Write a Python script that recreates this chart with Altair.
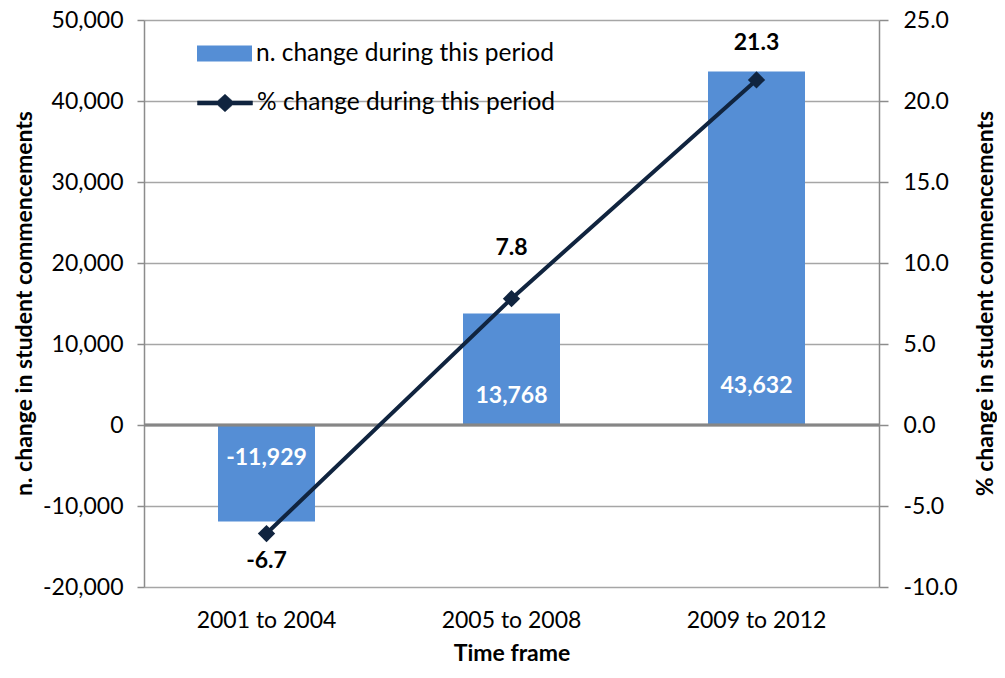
import altair as alt
import pandas as pd

periods = ["2001 to 2004", "2005 to 2008", "2009 to 2012"]
n_change = [-11929, 13768, 43632]
pct_change = [-6.7, 7.8, 21.3]
bar_series = "n. change during this period"
line_series = "% change during this period"

left_ticks = [-20000, -10000, 0, 10000, 20000, 30000, 40000, 50000]
right_ticks = [-10, -5, 0, 5, 10, 15, 20, 25]

df = pd.DataFrame({
    "period": periods,
    "n": n_change,
    "pct": pct_change,
    "n_label": [f"{v:,}" for v in n_change],
    "pct_label": [f"{v:.1f}" for v in pct_change],
    "bar_series": [bar_series] * 3,
    "line_series": [line_series] * 3,
})

FONT = "Lato"
BAR = "#558ED5"
NAVY = "#10243F"
GRID = "#A6A6A6"
FS = 23
LFS = 24.5
MINUS = "\u2212"

# label offsets (pixels) per period, styling only
bar_dy = [33, -29, -39]
pct_dy = [27, -51, -37]

x = alt.X("period:N", sort=periods, title="Time frame",
          scale=alt.Scale(paddingInner=0.604, paddingOuter=0.302),
          axis=alt.Axis(labelAngle=0, domain=False, ticks=False, labelPadding=22,
                        labelFontSize=FS, labelColor="#000", titleFontSize=FS,
                        titleFontWeight="bold", titlePadding=10, titleColor="#000"))

yl = alt.Y("n:Q", scale=alt.Scale(domain=[-20000, 50000], nice=False),
           axis=alt.Axis(values=left_ticks,
                         labelExpr=f"replace(format(datum.value, ',.0f'), '{MINUS}', '-')",
                         title="n. change in student commencements",
                         grid=True, gridColor=GRID, gridWidth=1.5, domainColor="#8C8C8C",
                         domainWidth=1.5, tickColor="#8C8C8C", tickWidth=1.5, tickSize=7,
                         labelFontSize=FS, labelColor="#000", labelPadding=14,
                         titleFontSize=FS, titleFontWeight="bold", titleColor="#000",
                         titleX=-120, titleY=283, titleAngle=270, titleBaseline="middle"))

bars = alt.Chart(df).mark_bar(size=97).encode(
    x=x,
    y=yl,
    color=alt.Color("bar_series:N", scale=alt.Scale(range=[BAR]),
                    legend=alt.Legend(title=None, orient="none", legendX=53, legendY=6,
                                      symbolType="M-1,-0.29H1V0.29H-1Z", symbolSize=3025,
                                      symbolStrokeWidth=0, labelFontSize=LFS, labelColor="#000",
                                      labelFont=FONT, labelOffset=4, labelLimit=0)),
)

zero_rule = alt.Chart(df).mark_rule(color="#868686", strokeWidth=2.5).encode(
    y=alt.datum(0)
)

bar_texts = []
for p, dy in zip(periods, bar_dy):
    bar_texts.append(
        alt.Chart(df).transform_filter(alt.datum.period == p).transform_calculate(zero="0")
        .mark_text(color="white", fontSize=FS, fontWeight="bold", font=FONT,
                   baseline="middle", dy=dy)
        .encode(x=alt.X("period:N", sort=periods), y=alt.Y("zero:Q"), text="n_label:N")
    )

left = alt.layer(bars, zero_rule, *bar_texts)

yr = alt.Y("pct:Q", scale=alt.Scale(domain=[-10, 25], nice=False),
           axis=alt.Axis(values=right_ticks,
                         labelExpr=f"replace(format(datum.value, '.1f'), '{MINUS}', '-')",
                         orient="right",
                         title="% change in student commencements", grid=False,
                         domainColor="#8C8C8C", domainWidth=1.5, tickColor="#8C8C8C",
                         tickWidth=1.5, tickSize=9, labelFontSize=FS, labelColor="#000",
                         labelPadding=15, titleFontSize=FS, titleFontWeight="bold",
                         titleColor="#000", titleX=106, titleY=283, titleAngle=270,
                         titleBaseline="middle"))

line = alt.Chart(df).mark_line(strokeWidth=4).encode(
    x=alt.X("period:N", sort=periods),
    y=yr,
    stroke=alt.Stroke("line_series:N", scale=alt.Scale(range=[NAVY]),
                      legend=alt.Legend(title=None, orient="none", legendX=53, legendY=55,
                                        symbolType="M-1,-0.075H-0.27L0,-0.32L0.27,-0.075H1V0.075H0.27L0,0.32L-0.27,0.075H-1Z",
                                        symbolSize=3025, symbolFillColor=NAVY,
                                        symbolStrokeColor=NAVY, symbolStrokeWidth=0.5,
                                        labelFontSize=LFS, labelColor="#000", labelFont=FONT,
                                        labelOffset=4, labelLimit=0)),
)

points = alt.Chart(df).mark_point(shape="diamond", filled=True, size=300, color=NAVY, opacity=1).encode(
    x=alt.X("period:N", sort=periods),
    y=alt.Y("pct:Q"),
)

pct_texts = []
for p, dy in zip(periods, pct_dy):
    pct_texts.append(
        alt.Chart(df).transform_filter(alt.datum.period == p)
        .mark_text(color="#000", fontSize=FS, fontWeight="bold", font=FONT,
                   baseline="middle", dy=dy)
        .encode(x=alt.X("period:N", sort=periods), y=alt.Y("pct:Q"), text="pct_label:N")
    )

right = alt.layer(line, points, *pct_texts)

chart = alt.layer(left, right).resolve_scale(y="independent", color="independent").properties(
    width=735, height=567,
    autosize=alt.AutoSizeParams(type="none"),
    padding={"left": 136, "top": 12, "right": 118, "bottom": 83},
).configure(font=FONT).configure_view(stroke=None).configure_axis(
    labelFont=FONT, titleFont=FONT
)

chart.save("out.html", embed_options={"renderer": "svg", "actions": False})
